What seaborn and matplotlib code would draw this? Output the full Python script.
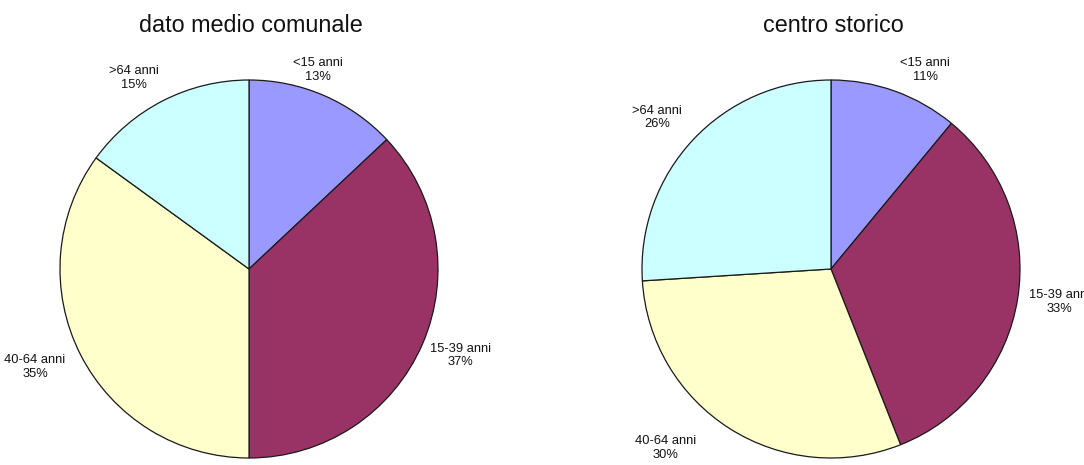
import numpy as np
import matplotlib
matplotlib.use("Agg")
import matplotlib.pyplot as plt
import seaborn as sns

categories = ["<15 anni", "15-39 anni", "40-64 anni", ">64 anni"]
comunale = [13, 37, 35, 15]
storico = [11, 33, 30, 26]
titles = ["dato medio comunale", "centro storico"]

sns.set_theme(style="white")
plt.rcParams['font.family'] = ['Liberation Sans', 'DejaVu Sans']

palette = sns.color_palette(["#9999FF", "#993366", "#FFFFCC", "#CCFFFF"])

fig = plt.figure(figsize=(10.84, 4.65), dpi=100)
fig.patch.set_facecolor("white")

W, H = 1084, 465
R = 189
centers = [(249, 269), (831, 269)]
# label placement style: (radial distance in radii, angular offset from slice middle in degrees)
label_style = [
    [(1.115, 4.3), (1.21, 1.2), (1.245, -2.4), (1.18, 4.0)],
    [(1.164, -5.5), (1.22, 0.8), (1.29, -10.4), (1.22, 2.2)],
]

for (cx, cy), vals, title, ls in zip(centers, [comunale, storico], titles, label_style):
    ax = fig.add_axes([(cx - R) / W, (H - cy - R) / H, 2 * R / W, 2 * R / H])
    wedges, _ = ax.pie(vals, colors=palette, startangle=90, counterclock=False,
                       radius=1.0,
                       wedgeprops=dict(edgecolor="#1a1a1a", linewidth=0.9))
    total = sum(vals)
    for w, cat, v, (d, off) in zip(wedges, categories, vals, ls):
        mid = np.deg2rad((w.theta1 + w.theta2) / 2 + off)
        ax.text(d * np.cos(mid), d * np.sin(mid),
                f"{cat}\n{round(100 * v / total)}%",
                ha="center", va="center", fontsize=9.3, color="#111111",
                linespacing=1.15, clip_on=False)
    ax.set_xlim(-1, 1)
    ax.set_ylim(-1, 1)
    ax.set_aspect("equal")
    ax.axis("off")
    fig.text((cx + 2) / W, (H - 32) / H, title, ha="center", va="baseline",
             fontsize=16.8, color="#111111")

fig.savefig("out.png", dpi=100, facecolor="white")
